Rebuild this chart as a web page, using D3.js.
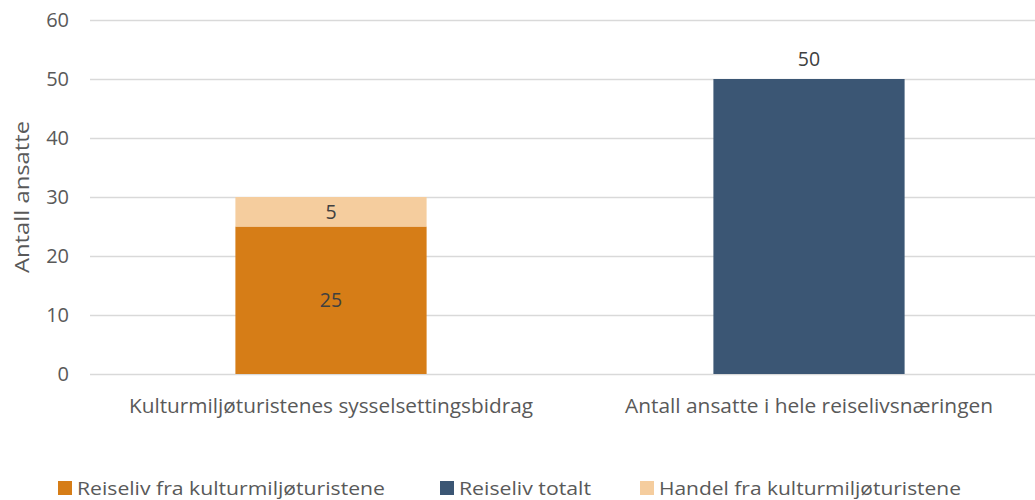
<!DOCTYPE html>
<html>
<head>
<meta charset="utf-8">
<script src="https://cdn.jsdelivr.net/npm/d3@7"></script>
<style>
  html, body { margin: 0; padding: 0; background: #fff; }
  svg { display: block; font-family: "Open Sans", "Liberation Sans", sans-serif; }
</style>
</head>
<body>
<svg id="chart" width="1035" height="500"></svg>
<script>
// Categories on the x axis
const categories = [
  "Kulturmiljøturistenes sysselsettingsbidrag",
  "Antall ansatte i hele reiselivsnæringen"
];
// Series values per category (0 where a series has no bar)
const reiselivKultur = [25, 0];
const reiselivTotalt = [0, 50];
const handelKultur = [5, 0];
// Series names, in legend order
const seriesNames = [
  "Reiseliv fra kulturmiljøturistene",
  "Reiseliv totalt",
  "Handel fra kulturmiljøturistene"
];
const seriesColors = ["#D67D17", "#3B5674", "#F5CD9E"];
// Y axis ticks
const yTicks = [0, 10, 20, 30, 40, 50, 60];
const yTitle = "Antall ansatte";

const svg = d3.select("#chart");

const y = d3.scaleLinear().domain([0, 60]).range([374, 20]);
const x = d3.scaleBand()
  .domain(categories)
  .range([92, 1048])
  .paddingInner(0.6)
  .paddingOuter(0.3);

// Gridlines + tick labels
const yAxis = d3.axisLeft(y).tickValues(yTicks).tickSize(-945).tickPadding(21);
const gy = svg.append("g").attr("transform", "translate(90,0)").call(yAxis);
gy.select(".domain").remove();
gy.selectAll(".tick line").attr("stroke", "#D9D9D9").attr("stroke-width", 1.3);
gy.selectAll(".tick text")
  .attr("fill", "#595959")
  .attr("font-size", 20)
  .attr("font-family", "Open Sans, sans-serif");

// Stacked rows
const rows = categories.map((c, i) => ({
  cat: c,
  [seriesNames[0]]: reiselivKultur[i],
  [seriesNames[1]]: reiselivTotalt[i],
  [seriesNames[2]]: handelKultur[i]
}));
const stacked = d3.stack().keys(seriesNames)(rows);

const layers = svg.append("g").selectAll("g")
  .data(stacked)
  .join("g")
  .attr("fill", (d, i) => seriesColors[i]);

layers.selectAll("rect")
  .data(d => d.filter(p => p[1] - p[0] > 0))
  .join("rect")
  .attr("x", d => x(d.data.cat))
  .attr("width", x.bandwidth())
  .attr("y", d => y(d[1]))
  .attr("height", d => y(d[0]) - y(d[1]));

// Value labels
const labels = svg.append("g")
  .attr("fill", "#404040")
  .attr("font-size", 19.5)
  .attr("text-anchor", "middle");

stacked.forEach((layer, si) => {
  layer.forEach(p => {
    const v = p[1] - p[0];
    if (v <= 0) return;
    const cx = x(p.data.cat) + x.bandwidth() / 2;
    // the single-segment total bar carries its label above the bar
    const single = seriesNames.every((k, j) => j === si || p.data[k] === 0);
    const cy = single ? y(p[1]) - 13 : (y(p[0]) + y(p[1])) / 2 + 7;
    labels.append("text")
      .attr("x", cx)
      .attr("y", cy)
      .text(v);
  });
});

// Category labels
const catWidths = [404, 368];
svg.append("g").selectAll("text")
  .data(categories)
  .join("text")
  .attr("x", d => x(d) + x.bandwidth() / 2)
  .attr("y", 413)
  .attr("text-anchor", "middle")
  .attr("fill", "#595959")
  .attr("font-size", 19.5)
  .attr("textLength", (d, i) => catWidths[i])
  .attr("lengthAdjust", "spacingAndGlyphs")
  .text(d => d);

// Y axis title
svg.append("text")
  .attr("transform", "translate(29,197) rotate(-90)")
  .attr("text-anchor", "middle")
  .attr("fill", "#595959")
  .attr("font-size", 19.5)
  .attr("textLength", 152)
  .attr("lengthAdjust", "spacingAndGlyphs")
  .text(yTitle);

// Legend
const legendX = [58, 440, 640];
const legendW = [308, 132, 302];
const legend = svg.append("g").selectAll("g")
  .data(seriesNames)
  .join("g")
  .attr("transform", (d, i) => `translate(${legendX[i]},481)`);
legend.append("rect")
  .attr("width", 14).attr("height", 14)
  .attr("fill", (d, i) => seriesColors[i]);
legend.append("text")
  .attr("x", 19).attr("y", 13.5)
  .attr("fill", "#595959")
  .attr("font-size", 19)
  .attr("textLength", (d, i) => legendW[i])
  .attr("lengthAdjust", "spacingAndGlyphs")
  .text(d => d);
</script>
</body>
</html>
